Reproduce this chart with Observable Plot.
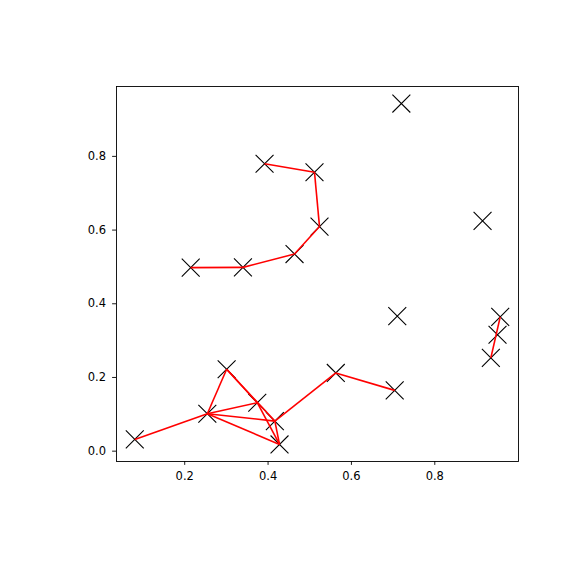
<!DOCTYPE html>
<html>
<head>
<meta charset="utf-8">
<script src="https://cdn.jsdelivr.net/npm/d3@7"></script>
<script src="https://cdn.jsdelivr.net/npm/@observablehq/plot@0.6"></script>
<style>
  html, body { margin: 0; padding: 0; background: #fff; }
  #chart { width: 576px; height: 576px; }
</style>
</head>
<body>
<div id="chart"></div>
<script>
const xs = [0.7198, 0.3916, 0.5114, 0.5234, 0.4635, 0.3397, 0.2144, 0.9146, 0.7100, 0.9570,
            0.9505, 0.9345, 0.3006, 0.5625, 0.7038, 0.3741, 0.2543, 0.4163, 0.0802, 0.4275];
const ys = [0.9434, 0.7800, 0.7570, 0.6095, 0.5350, 0.4988, 0.4980, 0.6250, 0.3665, 0.3646,
            0.3160, 0.2530, 0.2223, 0.2122, 0.1650, 0.1314, 0.1016, 0.0816, 0.0318, 0.0182];
const edgeFrom = [1, 2, 3, 4, 5, 9, 13, 17, 18, 16, 16, 16, 16, 12, 12, 15, 17];
const edgeTo   = [2, 3, 4, 5, 6, 11, 14, 13, 16, 12, 15, 17, 19, 15, 17, 19, 19];
const xTicks = [0.2, 0.4, 0.6, 0.8];
const yTicks = [0.0, 0.2, 0.4, 0.6, 0.8];

const points = xs.map((x, i) => ({x, y: ys[i]}));
const edges = edgeFrom.map((a, i) => ({x1: xs[a], y1: ys[a], x2: xs[edgeTo[i]], y2: ys[edgeTo[i]]}));

function pad(arr) {
  const lo = d3.min(arr), hi = d3.max(arr), m = (hi - lo) * 0.05;
  return [lo - m, hi + m];
}

const chart = Plot.plot({
  width: 576,
  height: 576,
  marginLeft: 116,
  marginRight: 58,
  marginTop: 86,
  marginBottom: 115,
  style: {fontFamily: "DejaVu Sans", fontSize: "11.5px", background: "#fff", color: "#000"},
  x: {domain: pad(xs)},
  y: {domain: pad(ys)},
  marks: [
    Plot.dot(points, {x: "x", y: "y", symbol: "times", r: 8.2, stroke: "black", strokeWidth: 1.1}),
    Plot.link(edges, {x1: "x1", y1: "y1", x2: "x2", y2: "y2", stroke: "red", strokeWidth: 1.6}),
    Plot.frame({stroke: "black", strokeWidth: 0.9}),
    Plot.axisX({ticks: xTicks, tickFormat: d3.format(".1f"), tickSize: 3.9, tickPadding: 6.5, label: null, strokeWidth: 0.9, fontSize: 11.5}),
    Plot.axisY({ticks: yTicks, tickFormat: d3.format(".1f"), tickSize: 3.9, tickPadding: 6.5, label: null, strokeWidth: 0.9, fontSize: 11.5})
  ]
});
document.getElementById("chart").appendChild(chart);
</script>
</body>
</html>
